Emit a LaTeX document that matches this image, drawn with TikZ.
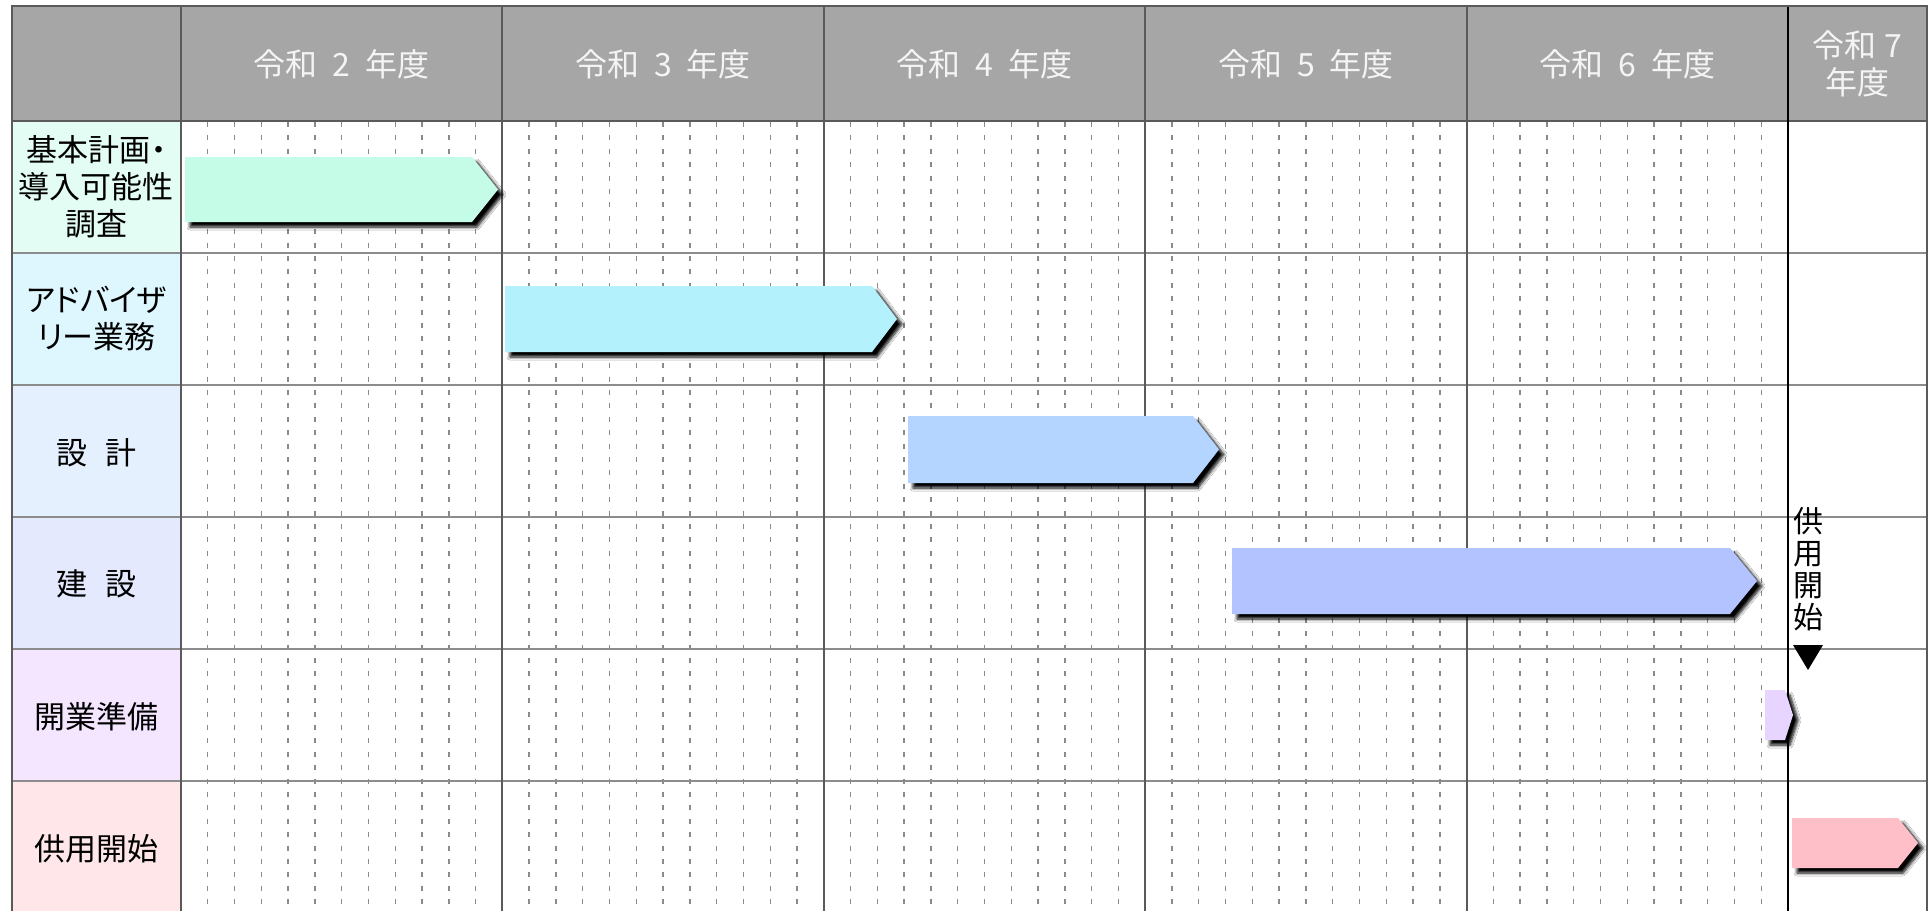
\documentclass[tikz,border=0pt]{standalone}
\usepackage{fontspec}
\newfontfamily\jp{Noto Sans CJK JP}
\newfontfamily\jpp{Noto Sans CJK JP}[RawFeature=+palt]
\usetikzlibrary{shadows,shadows.blur}
\definecolor{hdrgray}{HTML}{A6A6A6}
\definecolor{hdrtext}{HTML}{F4F4F4}
\definecolor{gridline}{HTML}{8C8C8C}
\definecolor{hdrline}{HTML}{5A5A5A}
\definecolor{monthgray}{HTML}{8A8A8A}
\definecolor{lab1}{HTML}{E3FDF5}
\definecolor{lab2}{HTML}{DEF7FE}
\definecolor{lab3}{HTML}{E4F0FE}
\definecolor{lab4}{HTML}{E5E9FE}
\definecolor{lab5}{HTML}{F3E6FE}
\definecolor{lab6}{HTML}{FEE6E9}
\definecolor{bar1}{HTML}{C5FCE8}
\definecolor{bar2}{HTML}{B3F2FC}
\definecolor{bar3}{HTML}{B3D5FF}
\definecolor{bar4}{HTML}{B3C3FF}
\definecolor{bar5}{HTML}{E8D5FF}
\definecolor{bar6}{HTML}{FFBFC8}
\begin{document}
\begin{tikzpicture}[x=1pt,y=-1pt,
  hdrtxt/.style={text=hdrtext,font=\jp\fontsize{32}{37}\selectfont,align=center,inner sep=0pt},
  labtxt/.style={text=black,font=\jpp\fontsize{31}{37}\selectfont,align=center,inner sep=0pt},
  monthline/.style={draw=monthgray,line width=1.4pt,dash pattern=on 5pt off 8.4pt},
  gridh/.style={draw=gridline,line width=2pt},
  gridv/.style={draw=hdrline,line width=2pt},
  barshape/.style={draw=none,blur shadow={shadow xshift=5pt,shadow yshift=-5pt,shadow blur radius=3pt,shadow blur steps=6,shadow opacity=100}}
]
\useasboundingbox (0,0) rectangle (1931,911);
% header background
\fill[hdrgray] (12,6) rectangle (1927,121);
% label column fills
\fill[lab1] (12,121) rectangle (181,253);
\fill[lab2] (12,253) rectangle (181,385);
\fill[lab3] (12,385) rectangle (181,517);
\fill[lab4] (12,517) rectangle (181,649);
\fill[lab5] (12,649) rectangle (181,781);
\fill[lab6] (12,781) rectangle (181,911);
\fill[white] (181,121) rectangle (1927,911);
% month dashed lines
\foreach \c in {0,...,4}{
  \foreach \k in {1,...,11}{
    \draw[monthline] ({181+321.4*\c+26.783*\k},122) -- ({181+321.4*\c+26.783*\k},911);
  }
}
% horizontal grid lines
\foreach \y in {253,385,517,649,781}{
  \draw[gridh] (12,\y) -- (1927,\y);
}
\draw[gridv] (12,121) -- (1927,121);
% vertical grid lines
\foreach \x in {181,502.4,823.8,1145.2,1466.6}{
  \draw[gridv] (\x,6) -- (\x,911);
}
\draw[black,line width=2.2pt] (1788,6) -- (1788,911);
% outer border
\draw[hdrline,line width=2.4pt] (12,911) -- (12,6) -- (1927,6) -- (1927,911);
% header texts
\node[hdrtxt] (h2) at (341.7,64) {令和\hspace{15pt}2\hspace{15pt}年度};
\node[hdrtxt] (h3) at (663.1,64) {令和\hspace{15pt}3\hspace{15pt}年度};
\node[hdrtxt] (h4) at (984.5,64) {令和\hspace{15pt}4\hspace{15pt}年度};
\node[hdrtxt] (h5) at (1305.9,64) {令和\hspace{15pt}5\hspace{15pt}年度};
\node[hdrtxt] (h6) at (1627.3,64) {令和\hspace{15pt}6\hspace{15pt}年度};
\node[hdrtxt] (h7) at (1857.5,64) {令和\hspace{8pt}7\\年度};
% row labels
\node[labtxt] (l1) at (96.5,187) {基本計画・\\導入可能性\\調査};
\node[labtxt] (l2) at (96.5,319) {アドバイザ\\リー業務};
\node[labtxt] (l3) at (96.5,453) {設\hspace{18pt}計};
\node[labtxt] (l4) at (96.5,584) {建\hspace{18pt}設};
\node[labtxt] (l5) at (96.5,717) {開業準備};
\node[labtxt] (l6) at (96.5,849) {供用開始};
% bars
\fill[bar1,barshape] (185,157) -- (472,157) -- (498,189.5) -- (472,222) -- (185,222) -- cycle;
\fill[bar2,barshape] (505,286) -- (872,286) -- (897,319) -- (872,352) -- (505,352) -- cycle;
\fill[bar3,barshape] (908,416) -- (1193,416) -- (1219,449.5) -- (1193,483) -- (908,483) -- cycle;
\fill[bar4,barshape] (1232,548) -- (1730,548) -- (1757,581) -- (1730,614) -- (1232,614) -- cycle;
\fill[bar5,barshape] (1765,690) -- (1785,690) -- (1793,715) -- (1785,740) -- (1765,740) -- cycle;
\fill[bar6,barshape] (1792,818) -- (1898,818) -- (1918,843) -- (1898,868) -- (1792,868) -- cycle;
% milestone
\node[labtxt,font=\jp\fontsize{30}{32}\selectfont,anchor=north] (ms) at (1808,507) {供\\用\\開\\始};
\fill[black] (1793,645) -- (1823,645) -- (1808,670) -- cycle;
\end{tikzpicture}
\end{document}
